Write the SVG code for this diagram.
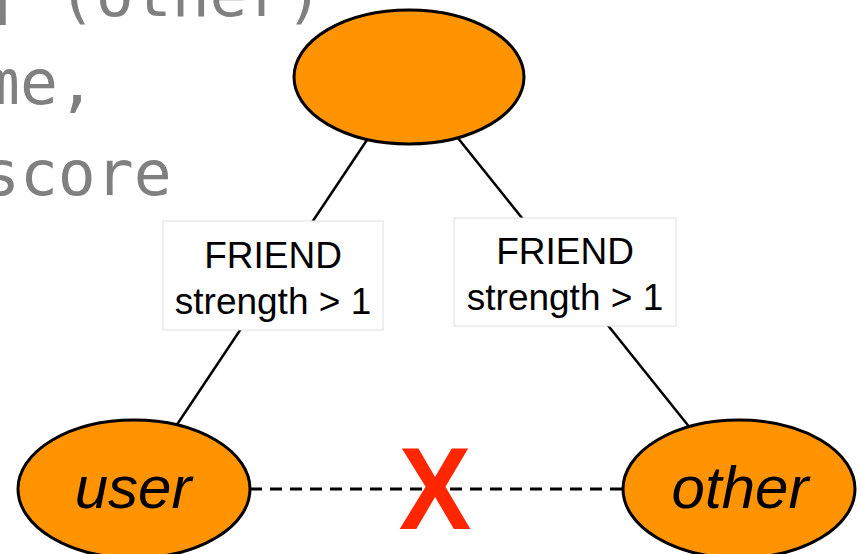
<svg xmlns="http://www.w3.org/2000/svg" width="860" height="554" viewBox="0 0 860 554">
  <style>
    .code { font-family: "DejaVu Sans Mono", "Liberation Mono", monospace; font-size: 63px; fill: #808080; }
    .node { fill: #FF9300; stroke: #000; stroke-width: 3; }
    .nodeLabel { font-family: "Liberation Sans", Arial, sans-serif; font-style: italic; font-size: 60px; fill: #000; text-anchor: middle; }
    .edge { stroke: #000; stroke-width: 2.5; fill: none; }
    .dashed { stroke: #000; stroke-width: 3; stroke-dasharray: 12 8; fill: none; }
    .box { fill: #fff; stroke: #e0e0e0; stroke-width: 1; }
    .boxText { font-family: "Liberation Sans", Arial, sans-serif; font-size: 37px; fill: #000; text-anchor: middle; }
    .cross { font-family: "Liberation Sans", Arial, sans-serif; font-weight: bold; font-size: 117px; fill: #FF2600; text-anchor: middle; }
  </style>

  <!-- background query text, partly off-canvas -->
  <g id="query-text">
    <text class="code" x="-18" y="16">] (other)</text>
    <text class="code" x="-18" y="104">me,</text>
    <text class="code" x="-18" y="195">score</text>
  </g>

  <!-- connectors -->
  <g id="connectors">
    <line class="edge" x1="409" y1="77" x2="134" y2="489"/>
    <line class="edge" x1="409" y1="77" x2="739" y2="489"/>
    <line class="dashed" x1="250" y1="489" x2="622" y2="489"/>
  </g>

  <!-- edge labels -->
  <g id="label-left">
    <rect class="box" x="163" y="221" width="220" height="109"/>
    <text class="boxText" x="273" y="268">FRIEND</text>
    <text class="boxText" x="273" y="314">strength &gt; 1</text>
  </g>
  <g id="label-right">
    <rect class="box" x="454" y="218" width="222" height="108"/>
    <text class="boxText" x="565" y="264">FRIEND</text>
    <text class="boxText" x="565" y="310">strength &gt; 1</text>
  </g>

  <!-- nodes -->
  <g id="node-top">
    <ellipse class="node" cx="409" cy="77" rx="115" ry="67"/>
  </g>
  <g id="node-user">
    <ellipse class="node" cx="134" cy="489" rx="116" ry="69"/>
    <text class="nodeLabel" x="133" y="508">user</text>
  </g>
  <g id="node-other">
    <ellipse class="node" cx="739" cy="489" rx="116" ry="69"/>
    <text class="nodeLabel" x="740" y="508">other</text>
  </g>

  <!-- blocked relationship mark -->
  <g id="cross">
    <text class="cross" transform="translate(435 529) scale(0.93 1)">X</text>
  </g>
</svg>
